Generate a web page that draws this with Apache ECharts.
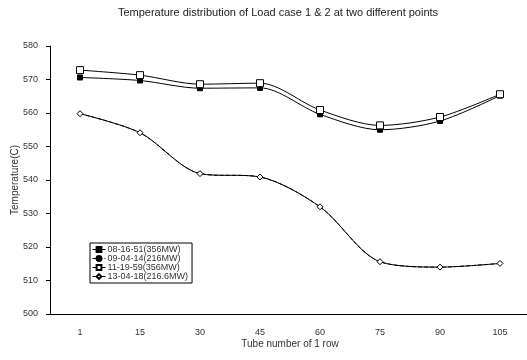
<!DOCTYPE html>
<html>
<head>
<meta charset="utf-8">
<script src="https://cdn.jsdelivr.net/npm/echarts@6/dist/echarts.min.js"></script>
<style>
  html, body { margin: 0; padding: 0; background: #fff; }
  #chart { width: 527px; height: 360px; }
</style>
</head>
<body>
<div id="chart"></div>
<script>
// 数据
const tubes = ['1', '15', '30', '45', '60', '75', '90', '105'];
const s081651 = [570.6, 569.7, 567.4, 567.5, 559.6, 555.0, 557.6, 565.2];
const s090414 = [559.8, 554.1, 541.9, 540.9, 532.0, 515.6, 514.0, 515.1];
const s111959 = [572.8, 571.3, 568.6, 568.9, 560.9, 556.3, 558.8, 565.6];
const s130418 = [559.8, 554.1, 541.9, 540.9, 532.0, 515.6, 514.0, 515.1];
const names = ['08-16-51(356MW)', '09-04-14(216MW)', '11-19-59(356MW)', '13-04-18(216.6MW)'];

const chart = echarts.init(document.getElementById('chart'));
const font = 'Liberation Sans, Arial, sans-serif';

// 线条公共样式
function line(name, data, symbol, size, fill, dashed, z) {
  return {
    name: name,
    type: 'line',
    data: data,
    smooth: 0.3,
    symbol: symbol,
    symbolSize: size,
    z: z,
    lineStyle: { color: '#000', width: 1, type: dashed ? 'dashed' : 'solid' },
    itemStyle: { color: fill, borderColor: '#000', borderWidth: 1 },
  };
}

const option = {
  animation: false,
  textStyle: { fontFamily: font },
  title: {
    text: 'Temperature distribution of Load case 1 & 2 at two different points',
    left: 273,
    textAlign: 'center',
    top: 2,
    textStyle: { fontSize: 11, fontWeight: 'normal', color: '#222', fontFamily: font },
  },
  grid: { left: 50, top: 46, width: 480, height: 268, outerBoundsMode: 'none', containLabel: false },
  legend: {
    orient: 'vertical',
    left: 90,
    top: 243,
    padding: [2, 4, 2, 2],
    itemGap: 0,
    itemWidth: 13,
    itemHeight: 6,
    borderColor: '#000',
    borderWidth: 1,
    backgroundColor: '#fff',
    lineStyle: { width: 1 },
    textStyle: { fontSize: 9, lineHeight: 8.5, color: '#333', padding: [0, 0, 0, -3] },
    data: names,
  },
  xAxis: {
    type: 'category',
    data: tubes,
    name: 'Tube number of 1 row',
    nameLocation: 'middle',
    nameGap: 25,
    nameMoveOverlap: false,
    nameTextStyle: { fontSize: 10, color: '#333' },
    axisLine: { lineStyle: { color: '#000', width: 1 } },
    axisTick: { inside: true, length: 3, lineStyle: { color: '#000' } },
    axisLabel: { fontSize: 9, color: '#333', margin: 14 },
    splitLine: { show: false },
  },
  yAxis: {
    type: 'value',
    min: 500,
    max: 580,
    interval: 10,
    name: 'Temperature(C)',
    nameLocation: 'middle',
    nameGap: 30,
    nameMoveOverlap: false,
    nameTextStyle: { fontSize: 10, color: '#333' },
    axisLine: { show: true, lineStyle: { color: '#000', width: 1 } },
    axisTick: { show: true, length: 4, lineStyle: { color: '#000' } },
    axisLabel: { fontSize: 9, color: '#333', margin: 12 },
    splitLine: { show: false },
  },
  series: [
    line(names[1], s090414, 'circle', 3, '#000', true, 1),
    line(names[3], s130418, 'diamond', 6, '#fff', false, 2),
    line(names[0], s081651, 'rect', 5, '#000', false, 3),
    line(names[2], s111959, 'rect', 7, '#fff', false, 4),
  ],
};

chart.setOption(option, true);
</script>
</body>
</html>
